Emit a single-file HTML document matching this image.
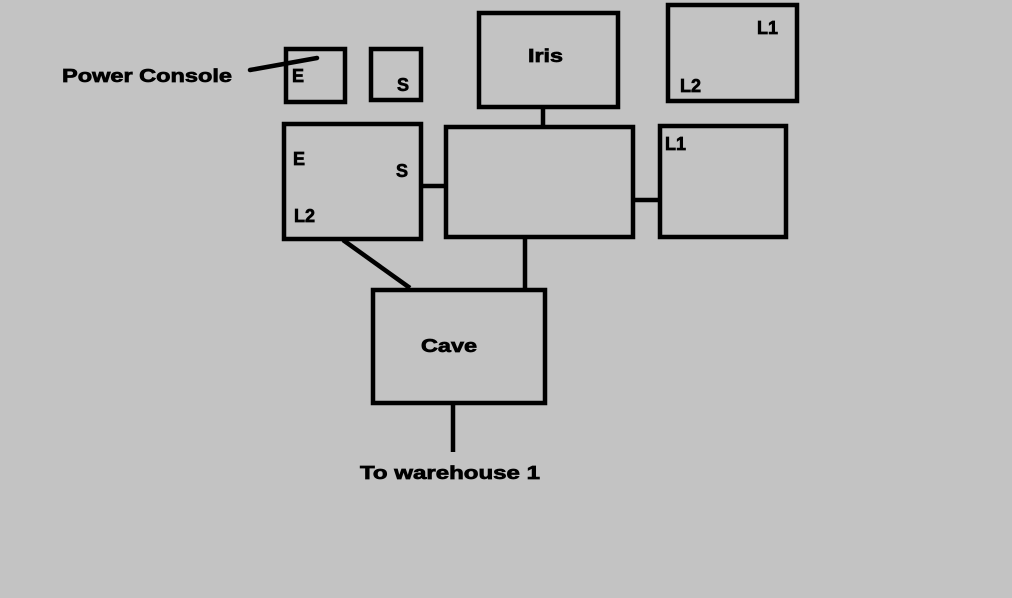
<!DOCTYPE html>
<html><head><meta charset="utf-8"><style>
html,body{margin:0;padding:0;background:#c3c3c3;}
svg{display:block}
text{font-family:"Liberation Sans",Arial,sans-serif;font-weight:bold;font-size:18px;fill:#000;stroke:#000;stroke-width:0.7}
</style></head><body>
<svg width="1012" height="598" viewBox="0 0 1012 598">
<rect width="1012" height="598" fill="#c3c3c3"/>
<g fill="none" stroke="#000" stroke-width="4.5">
<rect x="286" y="49" width="59" height="53"/>
<rect x="371" y="49" width="50" height="51"/>
<rect x="479" y="13" width="139" height="94"/>
<rect x="668" y="5" width="129" height="96"/>
<rect x="284" y="124" width="137" height="115"/>
<rect x="446" y="127" width="187" height="110"/>
<rect x="660" y="126" width="126" height="111"/>
<rect x="373" y="290" width="172" height="113"/>
<line x1="543" y1="107" x2="543" y2="127"/>
<line x1="421" y1="186" x2="446" y2="186"/>
<line x1="633" y1="200" x2="660" y2="200"/>
<line x1="525" y1="237" x2="525" y2="290"/>
<line x1="343" y1="240" x2="410" y2="288"/>
<line x1="453" y1="403" x2="453" y2="452"/>
<line x1="250" y1="70" x2="317" y2="58" stroke-linecap="round"/>
</g>
<text x="62" y="82" textLength="170" lengthAdjust="spacingAndGlyphs">Power Console</text>
<text x="292" y="82">E</text>
<text x="397" y="91">S</text>
<text x="528" y="62" textLength="35" lengthAdjust="spacingAndGlyphs">Iris</text>
<text x="757" y="34">L1</text>
<text x="680" y="92">L2</text>
<text x="293" y="165">E</text>
<text x="396" y="177">S</text>
<text x="294" y="222">L2</text>
<text x="665" y="150">L1</text>
<text x="421" y="352" textLength="56" lengthAdjust="spacingAndGlyphs">Cave</text>
<text x="360" y="479" textLength="180" lengthAdjust="spacingAndGlyphs">To warehouse 1</text>
</svg>
</body></html>
